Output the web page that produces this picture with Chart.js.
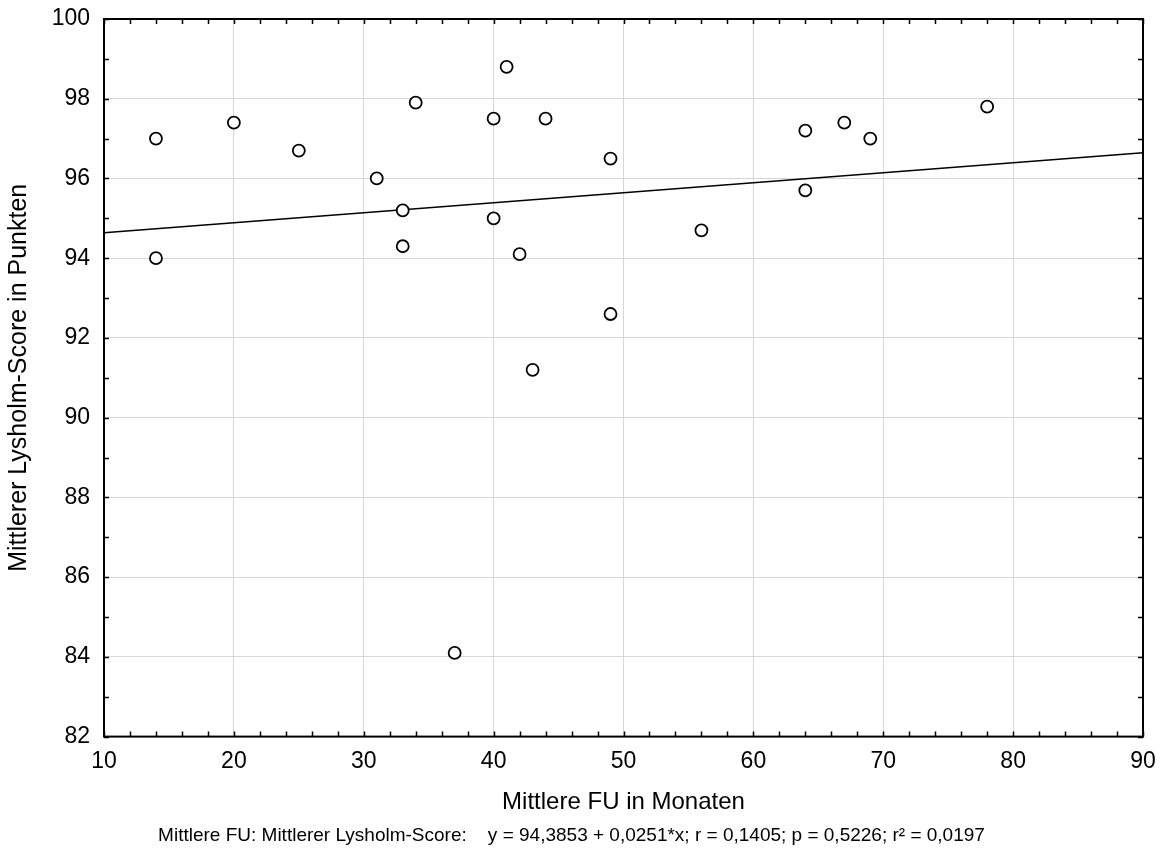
<!DOCTYPE html>
<html>
<head>
<meta charset="utf-8">
<title>Mittlere FU vs. Lysholm-Score</title>
<script src="https://cdn.jsdelivr.net/npm/chart.js@4.4.1/dist/chart.umd.min.js"></script>
<style>
  html, body { margin: 0; padding: 0; background: #fff; }
  #wrap { width: 1165px; height: 852px; }
</style>
</head>
<body>
<div id="wrap"><canvas id="fuChart" width="1165" height="852"></canvas></div>
<script>
// follow-up in months (x) and mean Lysholm score (y), one entry per study
const fuMonths = [14, 14, 20, 25, 31, 33, 33, 34, 37, 40, 40, 41, 42, 43, 44, 49, 49, 56, 64, 64, 67, 69, 78];
const lysholm  = [97.0, 94.0, 97.4, 96.7, 96.0, 95.2, 94.3, 97.9, 84.1, 97.5, 95.0, 98.8, 94.1, 91.2, 97.5, 96.5, 92.6, 94.7, 97.2, 95.7, 97.4, 97.0, 97.8];

// axis ranges
const xRange = [10, 90];
const yRange = [82, 100];

// regression from the caption
const fitIntercept = 94.3853;
const fitSlope = 0.0251;
const fitLine = xRange.map(x => ({ x: x, y: fitIntercept + fitSlope * x }));

const captionText = 'Mittlere FU: Mittlerer Lysholm-Score:    y = 94,3853 + 0,0251*x; r = 0,1405; p = 0,5226; r\u00B2 = 0,0197';

const FONT = '"Liberation Sans", Arial, Helvetica, sans-serif';

// box around the plot with inward tick marks on all four sides
const framePlugin = {
  id: 'frame',
  afterDraw(chart) {
    const { ctx, chartArea: a, scales } = chart;
    const x = scales.x, y = scales.y;
    const tick = 5;
    ctx.save();
    ctx.strokeStyle = '#000';
    ctx.lineWidth = 1.5;
    ctx.beginPath();
    for (let v = xRange[0]; v <= xRange[1]; v += 2) {
      const px = Math.round(x.getPixelForValue(v)) + 0.5;
      ctx.moveTo(px, a.bottom); ctx.lineTo(px, a.bottom - tick);
      ctx.moveTo(px, a.top); ctx.lineTo(px, a.top + tick);
    }
    for (let v = yRange[0]; v <= yRange[1]; v += 1) {
      const py = Math.round(y.getPixelForValue(v)) + 0.5;
      ctx.moveTo(a.left, py); ctx.lineTo(a.left + tick, py);
      ctx.moveTo(a.right, py); ctx.lineTo(a.right - tick, py);
    }
    ctx.stroke();
    ctx.lineWidth = 2;
    ctx.strokeRect(a.left, a.top, a.right - a.left, a.bottom - a.top);
    ctx.restore();
  }
};

const ctx = document.getElementById('fuChart');

new Chart(ctx, {
  type: 'scatter',
  data: {
    datasets: [
      {
        label: 'Studien',
        data: fuMonths.map((m, i) => ({ x: m, y: lysholm[i] })),
        pointStyle: 'circle',
        pointRadius: 6,
        pointHoverRadius: 6,
        pointBorderWidth: 1.8,
        pointBorderColor: '#000',
        pointBackgroundColor: '#fff'
      },
      {
        label: 'Regression',
        type: 'line',
        data: fitLine,
        borderColor: '#000',
        borderWidth: 1.5,
        pointRadius: 0,
        fill: false
      }
    ]
  },
  options: {
    responsive: false,
    animation: false,
    layout: { padding: { top: 19, right: 22, bottom: 0, left: 0 } },
    plugins: {
      legend: { display: false },
      tooltip: { enabled: false },
      subtitle: {
        display: true,
        position: 'bottom',
        text: captionText,
        color: '#000',
        font: { family: FONT, size: 19, weight: 'normal' },
        padding: { top: 4, bottom: 4.6 }
      }
    },
    scales: {
      x: {
        type: 'linear',
        min: xRange[0],
        max: xRange[1],
        afterFit(scale) {
          scale.height = 84;
          scale.paddingLeft = 0;
          scale.paddingRight = 0;
        },
        grid: { color: '#d6d6d6', lineWidth: 1, drawTicks: false },
        border: { display: false },
        ticks: {
          stepSize: 10,
          color: '#000',
          padding: 11,
          font: { family: FONT, size: 23 }
        },
        title: {
          display: true,
          text: 'Mittlere FU in Monaten',
          color: '#000',
          font: { family: FONT, size: 24 },
          padding: { top: 0, bottom: 3.6 }
        }
      },
      y: {
        type: 'linear',
        min: yRange[0],
        max: yRange[1],
        afterFit(scale) {
          scale.width = 104;
          scale.paddingTop = 0;
          scale.paddingBottom = 0;
        },
        grid: { color: '#d6d6d6', lineWidth: 1, drawTicks: false },
        border: { display: false },
        ticks: {
          stepSize: 2,
          color: '#000',
          padding: 14,
          font: { family: FONT, size: 23 }
        },
        title: {
          display: true,
          text: 'Mittlerer Lysholm-Score in Punkten',
          color: '#000',
          font: { family: FONT, size: 25 },
          padding: { top: 4, bottom: 0 }
        }
      }
    }
  },
  plugins: [framePlugin]
});
</script>
</body>
</html>
